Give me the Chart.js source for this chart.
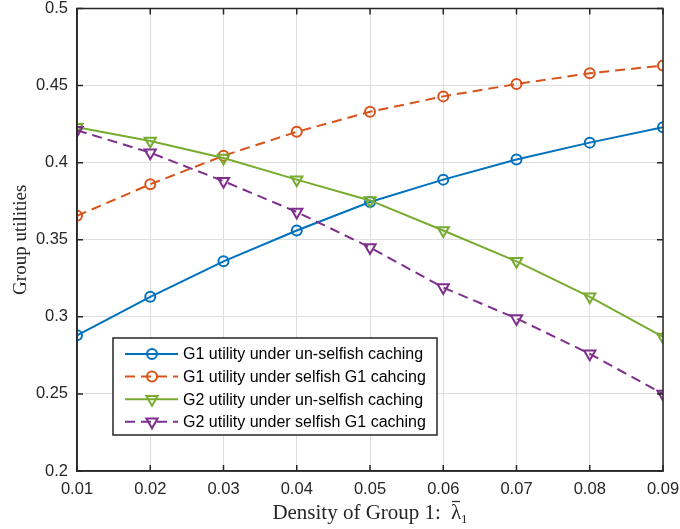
<!DOCTYPE html>
<html>
<head>
<meta charset="utf-8">
<script src="https://cdn.jsdelivr.net/npm/chart.js@4/dist/chart.umd.min.js"></script>
<style>
  html, body { margin: 0; padding: 0; background: #fff; }
  #wrap { width: 680px; height: 529px; position: relative; }
</style>
</head>
<body>
<div id="wrap"><canvas id="c" width="680" height="529"></canvas></div>
<script>
// Density of Group 1 (x values)
const densities = [0.01, 0.02, 0.03, 0.04, 0.05, 0.06, 0.07, 0.08, 0.09];

// Group utilities for each scheme
const g1Unselfish = [0.288, 0.313, 0.336, 0.356, 0.3745, 0.389, 0.402, 0.413, 0.423];
const g1Selfish   = [0.3655, 0.386, 0.4045, 0.420, 0.433, 0.443, 0.451, 0.458, 0.463];
const g2Unselfish = [0.423, 0.414, 0.403, 0.389, 0.3755, 0.356, 0.336, 0.313, 0.287];
const g2Selfish   = [0.421, 0.4065, 0.388, 0.368, 0.345, 0.319, 0.299, 0.276, 0.250];

const seriesLabels = [
  'G1 utility under un-selfish caching',
  'G1 utility under selfish G1 cahcing',
  'G2 utility under un-selfish caching',
  'G2 utility under selfish G1 caching'
];

const yTicks = [0.2, 0.25, 0.3, 0.35, 0.4, 0.45, 0.5];

const AXIS = '#262626';
const SANS = '"Liberation Sans", Arial, Helvetica, sans-serif';
const SERIF = '"Liberation Serif", "Times New Roman", serif';

function pts(ys) { return densities.map((x, i) => ({ x, y: ys[i] })); }

function makeSet(label, ys, color, dashed, marker, order) {
  const tri = marker === 'triangle';
  return {
    label,
    data: pts(ys),
    borderColor: color,
    backgroundColor: color,
    borderWidth: 2,
    borderDash: dashed ? [10, 6] : [],
    pointStyle: marker,
    pointRotation: tri ? 180 : 0,
    pointRadius: tri ? 6.5 : 5,
    pointBorderWidth: 2,
    pointBorderColor: color,
    pointBackgroundColor: 'rgba(0,0,0,0)',
    tension: 0,
    order
  };
}

// Inward tick marks on all four sides plus the top/right frame lines
const frameTicks = {
  id: 'frameTicks',
  afterDraw(chart) {
    const { ctx, chartArea: a, scales } = chart;
    const len = 6;
    ctx.save();
    ctx.strokeStyle = AXIS;
    ctx.lineWidth = 1.5;
    ctx.beginPath();
    scales.x.ticks.forEach(t => {
      const px = scales.x.getPixelForValue(t.value);
      ctx.moveTo(px, a.bottom); ctx.lineTo(px, a.bottom - len);
      ctx.moveTo(px, a.top); ctx.lineTo(px, a.top + len);
    });
    scales.y.ticks.forEach(t => {
      const py = scales.y.getPixelForValue(t.value);
      ctx.moveTo(a.left, py); ctx.lineTo(a.left + len, py);
      ctx.moveTo(a.right, py); ctx.lineTo(a.right - len, py);
    });
    ctx.stroke();
    ctx.beginPath();
    ctx.rect(a.left, a.top, a.right - a.left, a.bottom - a.top);
    ctx.stroke();
    ctx.restore();
  }
};

// Boxed legend in the lower left of the plot area
const boxLegend = {
  id: 'boxLegend',
  afterDraw(chart) {
    const { ctx, chartArea: a } = chart;
    const x0 = a.left + 36, y0 = a.bottom - 133, w = 324, h = 97;
    ctx.save();
    ctx.fillStyle = '#fff';
    ctx.fillRect(x0, y0, w, h);
    ctx.strokeStyle = AXIS;
    ctx.lineWidth = 1.5;
    ctx.strokeRect(x0, y0, w, h);
    chart.data.datasets.forEach((ds, i) => {
      const cy = y0 + 16 + i * 22.6;
      ctx.strokeStyle = ds.borderColor;
      ctx.lineWidth = 2;
      ctx.setLineDash(ds.borderDash);
      ctx.beginPath();
      ctx.moveTo(x0 + 12, cy); ctx.lineTo(x0 + 65, cy);
      ctx.stroke();
      ctx.setLineDash([]);
      ctx.fillStyle = 'rgba(0,0,0,0)';
      Chart.helpers.drawPoint(ctx, {
        pointStyle: ds.pointStyle, radius: ds.pointRadius,
        rotation: ds.pointRotation, borderWidth: 2
      }, x0 + 39, cy);
      ctx.fillStyle = '#000';
      ctx.font = '16px ' + SANS;
      ctx.textBaseline = 'middle';
      ctx.textAlign = 'left';
      ctx.fillText(ds.label, x0 + 70, cy + 1);
    });
    ctx.restore();
  }
};

// Axis titles in serif, x title with barred lambda and subscript
const axisTitles = {
  id: 'axisTitles',
  afterDraw(chart) {
    const { ctx, chartArea: a } = chart;
    ctx.save();
    ctx.fillStyle = AXIS;
    ctx.textBaseline = 'alphabetic';
    // y title
    ctx.font = '19px ' + SERIF;
    ctx.translate(26, (a.top + a.bottom) / 2);
    ctx.rotate(-Math.PI / 2);
    ctx.textAlign = 'center';
    ctx.fillText('Group utilities', 0, 0);
    ctx.restore();

    ctx.save();
    ctx.fillStyle = AXIS;
    ctx.textBaseline = 'alphabetic';
    const main = 'Density of Group 1:';
    const gap = 10;
    ctx.font = '21px ' + SERIF;
    const wMain = ctx.measureText(main).width;
    const wLam = ctx.measureText('λ').width;
    ctx.font = '13px ' + SERIF;
    const wSub = ctx.measureText('1').width;
    const total = wMain + gap + wLam + wSub;
    let x = (a.left + a.right) / 2 - total / 2;
    const base = 519;
    ctx.textAlign = 'left';
    ctx.font = '21px ' + SERIF;
    ctx.fillText(main, x, base);
    x += wMain + gap;
    ctx.fillText('λ', x, base);
    ctx.strokeStyle = AXIS;
    ctx.lineWidth = 1.2;
    ctx.beginPath();
    ctx.moveTo(x + 1, base - 17.5); ctx.lineTo(x + wLam - 1, base - 17.5);
    ctx.stroke();
    x += wLam;
    ctx.font = '13px ' + SERIF;
    ctx.fillText('1', x, base + 4);
    ctx.restore();
  }
};

new Chart(document.getElementById('c'), {
  type: 'line',
  data: {
    datasets: [
      makeSet(seriesLabels[0], g1Unselfish, '#0072BD', false, 'circle', 4),
      makeSet(seriesLabels[1], g1Selfish,   '#D95319', true,  'circle', 3),
      makeSet(seriesLabels[2], g2Unselfish, '#77AC30', false, 'triangle', 2),
      makeSet(seriesLabels[3], g2Selfish,   '#7E2F8E', true,  'triangle', 1)
    ]
  },
  options: {
    responsive: false,
    animation: false,
    layout: { padding: { left: 0, right: 17, top: 8, bottom: 0 } },
    plugins: { legend: { display: false }, tooltip: { enabled: false } },
    scales: {
      x: {
        type: 'linear',
        min: 0.01, max: 0.09,
        afterFit(s) { s.height = 58; s.paddingLeft = 0; s.paddingRight = 0; },
        afterBuildTicks(s) { s.ticks = densities.map(v => ({ value: v })); },
        ticks: {
          padding: 9,
          color: AXIS,
          font: { family: SANS, size: 16.5 },
          maxRotation: 0,
          callback: v => Number(v.toFixed(2)).toString()
        },
        grid: { color: '#dedede', lineWidth: 1, drawTicks: false },
        border: { display: true, color: AXIS, width: 1.5 }
      },
      y: {
        min: 0.2, max: 0.5,
        afterFit(s) { s.width = 77; s.paddingTop = 0; s.paddingBottom = 0; },
        afterBuildTicks(s) { s.ticks = yTicks.map(v => ({ value: v })); },
        ticks: {
          padding: 9,
          color: AXIS,
          font: { family: SANS, size: 16.5 },
          callback: v => Number(v.toFixed(2)).toString()
        },
        grid: { color: '#dedede', lineWidth: 1, drawTicks: false },
        border: { display: true, color: AXIS, width: 1.5 }
      }
    }
  },
  plugins: [frameTicks, boxLegend, axisTitles]
});
</script>
</body>
</html>
